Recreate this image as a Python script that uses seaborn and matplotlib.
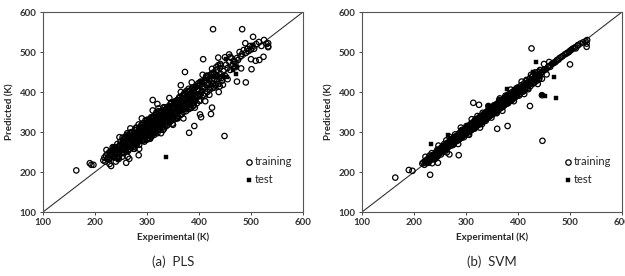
import matplotlib
matplotlib.use("Agg")
import matplotlib.pyplot as plt
import seaborn as sns
import pandas as pd

# ---------------- data ----------------
# training set, part 1: experimental values shared by both models
exp_train = [216,218,220,221,223,224,226,227,228,229, 230,231,233,234,235,236,237,238,239,240,
             241,242,243,244,245,246,247,248,249,250,
             251,252,252,253,254,255,255,256,257,258, 258,259,260,260,261,262,263,263,264,265,
             266,266,267,268,268,269,270,270,271,272, 272,273,274,275,275,276,277,278,278,279,
             280,280,281,282,282,283,284,285,285,286, 287,287,288,289,290,290,291,292,292,293,
             294,295,295,296,297,298,298,299,300,300,
             301,301,302,303,303,304,305,305,306,307, 307,308,309,309,310,311,311,312,313,313,
             314,315,315,316,317,318,318,319,320,320, 321,322,322,323,324,325,325,326,327,328,
             328,329,330,330,331,332,333,333,334,335, 335,336,337,338,338,339,340,340,341,342,
             342,343,344,345,345,346,347,348,348,349, 350,350,
             351,352,353,354,355,356,357,358,359,360, 361,362,363,364,365,366,367,368,369,370,
             371,372,373,374,375,376,377,378,379,380, 381,382,383,384,385,386,387,388,389,390,
             391,392,393,395,396,397,398,399,400,400,
             402,404,405,407,408,410,411,413,415,416, 418,420,421,423,425,426,428,430,432,434,
             436,438,440,442,444,
             447,450,452,455,458,460,462,465,468,470, 473,475,478,480,483,486,490,493,495,498,
             500,503,506,510,515,520,525,530,533]

pls_train = [229,236,226,241,233,245,238,231,250,242, 236,249,244,253,240,258,247,236,262,251,
             243,257,270,248,261,239,266,254,276,258,
             262,248,271,259,281,266,247,274,260,288, 269,252,279,264,293,271,255,284,268,276,
             289,258,280,271,297,262,285,276,300,268, 290,280,263,296,284,275,305,287,268,294,
             282,310,271,296,287,276,302,290,268,311, 295,283,301,288,318,296,279,305,292,284,
             309,297,276,316,300,289,312,296,322,281,
             310,292,325,305,286,316,298,331,312,293, 320,304,335,289,318,307,327,298,340,314,
             293,322,309,333,300,318,344,310,327,297, 338,316,305,330,349,320,306,336,315,343,
             327,311,352,333,320,341,309,328,355,336, 318,345,325,360,340,317,349,331,364,338,
             322,352,335,370,346,327,358,341,366,333, 355,318,
             362,341,374,350,333,366,347,380,356,338, 372,353,385,362,343,378,358,391,367,350,
             383,363,395,372,352,387,368,400,376,357, 392,372,404,380,360,396,377,408,385,366,
             399,381,411,388,372,403,390,415,394,378,
             418,399,425,408,392,428,412,435,418,400, 438,421,406,444,428,410,449,433,416,455,
             440,420,460,445,428,
             452,441,468,460,475,455,485,470,478,462, 485,480,500,490,495,505,498,508,502,515,
             506,515,508,520,525,515,530,520,512]

svm_train = [221,224,218,227,222,230,224,233,228,236, 229,234,238,231,240,235,243,237,232,244,
             241,236,248,242,247,251,244,253,246,255,
             254,249,258,255,260,252,259,262,254,265, 257,263,256,266,262,268,259,266,270,262,
             268,273,264,271,275,266,274,268,277,270, 279,275,270,281,276,273,284,279,274,285,
             277,286,283,279,289,284,281,291,286,283, 293,287,284,295,289,298,286,296,291,299,
             290,300,295,302,293,304,299,296,307,301,
             304,298,308,301,306,299,310,304,302,312, 306,303,314,308,305,316,310,307,318,312,
             309,320,314,311,322,316,313,324,318,315, 326,320,317,328,321,330,325,322,332,326,
             323,334,328,325,336,330,327,338,331,341, 335,331,342,336,333,344,338,334,346,340,
             336,348,341,351,346,342,352,346,343,354, 350,345,
             355,349,358,352,360,354,362,356,364,358, 366,360,368,361,370,364,372,366,374,368,
             376,369,378,372,380,374,382,376,384,378, 386,379,388,381,390,383,392,385,394,387,
             396,389,398,391,400,393,403,395,405,398,
             407,402,410,404,412,406,415,410,419,413, 422,417,425,420,430,423,433,427,436,431,
             440,436,444,440,448,
             450,455,456,458,463,465,463,470,472,474, 476,480,481,485,487,490,494,496,498,500,
             503,506,509,512,517,521,524,527,530]

# training set, part 2 (the wider part of the dense band)
exp_band = [236,239,243,246,248,251,253,256,257,259, 261,262,264,265,267,269,270,272,273,274,
            276,277,279,280,281,283,284,286,287,288, 289,291,292,293,294,296,297,298,299,301,
            302,303,304,306,307,308,309,310,312,313, 314,316,317,318,319,321,322,323,324,326,
            327,328,329,331,332,333,334,336,337,338, 339,341,342,343,344,346,347,348,349,351,
            352,353,355,356,358,359,361,362,364,365, 367,368,370,371,373,374,376,377,379,380,
            382,383,385,387,388,390,392,394,396,398, 401,403,406,409,412,414,417,419,422,424,
            427,431,433,435,439,441,443,
            245,255,263,271,278,285,294,300,308,316, 325,334,343,352,361,370,380,390]

pls_band = [262,238,255,233,267,256,286,249,272,255, 271,286,253,282,269,299,277,266,294,258,
            289,304,279,298,272,292,319,283,309,291, 317,286,306,279,314,300,329,290,315,299,
            313,328,292,325,308,337,315,303,334,296, 328,342,316,335,309,328,352,315,341,324,
            351,318,340,314,346,334,361,329,356,338, 362,328,351,324,360,342,373,339,361,336,
            358,373,349,371,340,369,360,387,353,378, 345,385,367,393,365,382,360,394,380,408,
            370,394,380,411,374,404,390,414,386,407, 394,426,402,425,396,440,417,432,411,445,
            421,441,419,455,436,470,435,
            263,256,291,282,272,309,296,329,298,328, 313,347,364,344,379,357,390,373]

svm_band = [242,234,251,240,256,249,262,251,265,256, 268,259,273,262,270,278,266,281,271,279,
            270,287,276,289,277,291,280,296,283,294, 299,285,301,290,303,292,306,294,309,297,
            312,299,314,301,316,304,319,305,322,308, 325,311,327,313,329,316,332,317,334,320,
            338,322,339,325,342,328,345,330,347,333, 350,335,353,338,355,340,358,342,360,345,
            363,347,366,350,369,352,372,356,375,358, 379,362,381,364,384,367,387,370,390,372,
            394,376,396,379,399,382,403,386,407,390, 411,395,417,401,422,406,428,410,433,415,
            438,423,444,427,450,433,454,
            256,262,258,282,285,279,305,295,319,309, 336,327,354,345,370,362,391,385]

# training set, part 3 (looser points along the edges of the band)
exp_edge = [222,228,234,240,247,252,258,263,268,274, 279,285,290,296,301,306,311,317,322,327,
            332,338,343,349,354,359,365,370,376,381, 386,392,397,402,407,412,416,420,425,429,
            433,438,442,446,450,455,460,
            230,244,262,276,292,305,318,331,347,358, 372,388,399,411,428,440]

pls_edge = [255,220,262,226,287,238,283,238,309,263, 311,258,334,280,331,283,354,304,359,297,
            362,316,385,321,377,334,400,334,403,362, 424,361,419,378,443,377,441,393,458,411,
            462,400,466,418,487,432,488,
            252,236,297,258,321,284,349,305,374,335, 398,366,422,390,446,414]

svm_edge = [238,223,247,232,266,244,270,249,288,267, 294,270,311,287,315,293,332,309,340,311,
            348,328,365,336,367,347,384,353,391,372, 406,377,409,391,426,395,430,407,443,421,
            449,420,455,433,470,444,475,
            241,238,279,269,305,294,332,320,362,349, 383,380,411,402,440,431]

# isolated training points (outliers) for each model
pls_out_x = [164,190,193,197,231,260,266,284,311,320,373,381,391,402,404,408,423,425,427,437,
             437,449,458,470,473,481,483,489,490,500,501,504,509,516,524,533,533,365]
pls_out_y = [204,222,218,218,215,223,233,242,380,370,450,298,315,344,337,482,345,361,557,486,
             467,290,494,471,426,459,557,522,424,482,457,538,478,480,488,522,514,417]

svm_out_x = [164,190,197,231,235,246,268,286,314,325,360,380,423,426,447,446,364,500,511,515,532,532]
svm_out_y = [186,205,203,193,222,223,244,242,373,368,308,315,365,509,278,392,380,469,509,516,521,513]

# test set
exp_test = [233,238,245,252,258,265,272,280,288,295,303,310,318,326,333,337,342,350,357,365,
            372,378,386,395,405,418,429,435,446,452,454,466,469,472,474,504]
pls_test = [250,262,229,270,265,280,283,275,300,307,298,322,330,315,345,238,352,340,371,378,
            360,392,398,380,425,433,440,437,440,482,438,455,467,445,462,518]
svm_test = [269,240,248,258,256,292,268,285,283,300,309,303,326,318,336,342,364,347,355,372,
            368,408,380,402,398,420,450,474,392,391,457,470,437,472,384,508]

ticks = [100, 200, 300, 400, 500, 600]
captions = ["(a)  PLS", "(b)  SVM"]

# ---------------- figure ----------------
sns.set_theme(style="ticks")
plt.rcParams["font.family"] = ["Lato", "DejaVu Sans"]

fig = plt.figure(figsize=(6.25, 2.76), dpi=100)
W, H = 625, 276
axes = [fig.add_axes([43 / W, (H - 212) / H, 260 / W, 200 / H]),
        fig.add_axes([362 / W, (H - 212) / H, 260 / W, 200 / H])]

panels = [
    (pls_train, pls_band, pls_edge, pls_out_x, pls_out_y, pls_test),
    (svm_train, svm_band, svm_edge, svm_out_x, svm_out_y, svm_test),
]

for ax, (tr_y, bd_y, ed_y, ox, oy, te_y), cap in zip(axes, panels, captions):
    train = pd.DataFrame({"x": exp_train + exp_band + exp_edge + ox,
                          "y": tr_y + bd_y + ed_y + oy})
    test = pd.DataFrame({"x": exp_test, "y": te_y})
    ax.plot([100, 600], [100, 600], color="#333333", lw=0.8, zorder=1)
    sns.scatterplot(data=train, x="x", y="y", ax=ax, marker="o", s=15,
                    facecolor="none", edgecolor="black", linewidth=0.9,
                    label="training", zorder=2)
    sns.scatterplot(data=test, x="x", y="y", ax=ax, marker="s", s=7,
                    color="black", edgecolor="black", linewidth=0.3,
                    label="test", zorder=3)
    ax.set_xlim(100, 600)
    ax.set_ylim(100, 600)
    ax.set_xticks(ticks)
    ax.set_yticks(ticks)
    ax.tick_params(axis="both", direction="out", length=2.5, width=0.6,
                   labelsize=7, labelcolor="#333333", pad=2)
    for lab in ax.get_xticklabels() + ax.get_yticklabels():
        lab.set_fontweight("bold")
    for sp in ax.spines.values():
        sp.set_visible(True)
        sp.set_linewidth(0.8)
        sp.set_color("#555555")
    ax.set_xlabel("Experimental (K)", fontsize=7, fontweight="bold", labelpad=3.5)
    ax.set_ylabel("Predicted (K)", fontsize=7, fontweight="bold", labelpad=3.5)
    ax.text(0.5, -0.215, cap, transform=ax.transAxes, ha="center", va="top", fontsize=9.5)
    ax.legend(loc="upper left", bbox_to_anchor=(0.76, 0.30), frameon=False,
              fontsize=8, handletextpad=0.1, handlelength=0.8, labelspacing=0.6,
              borderaxespad=0)
    ax.grid(False)

fig.savefig("out.png", dpi=100)
